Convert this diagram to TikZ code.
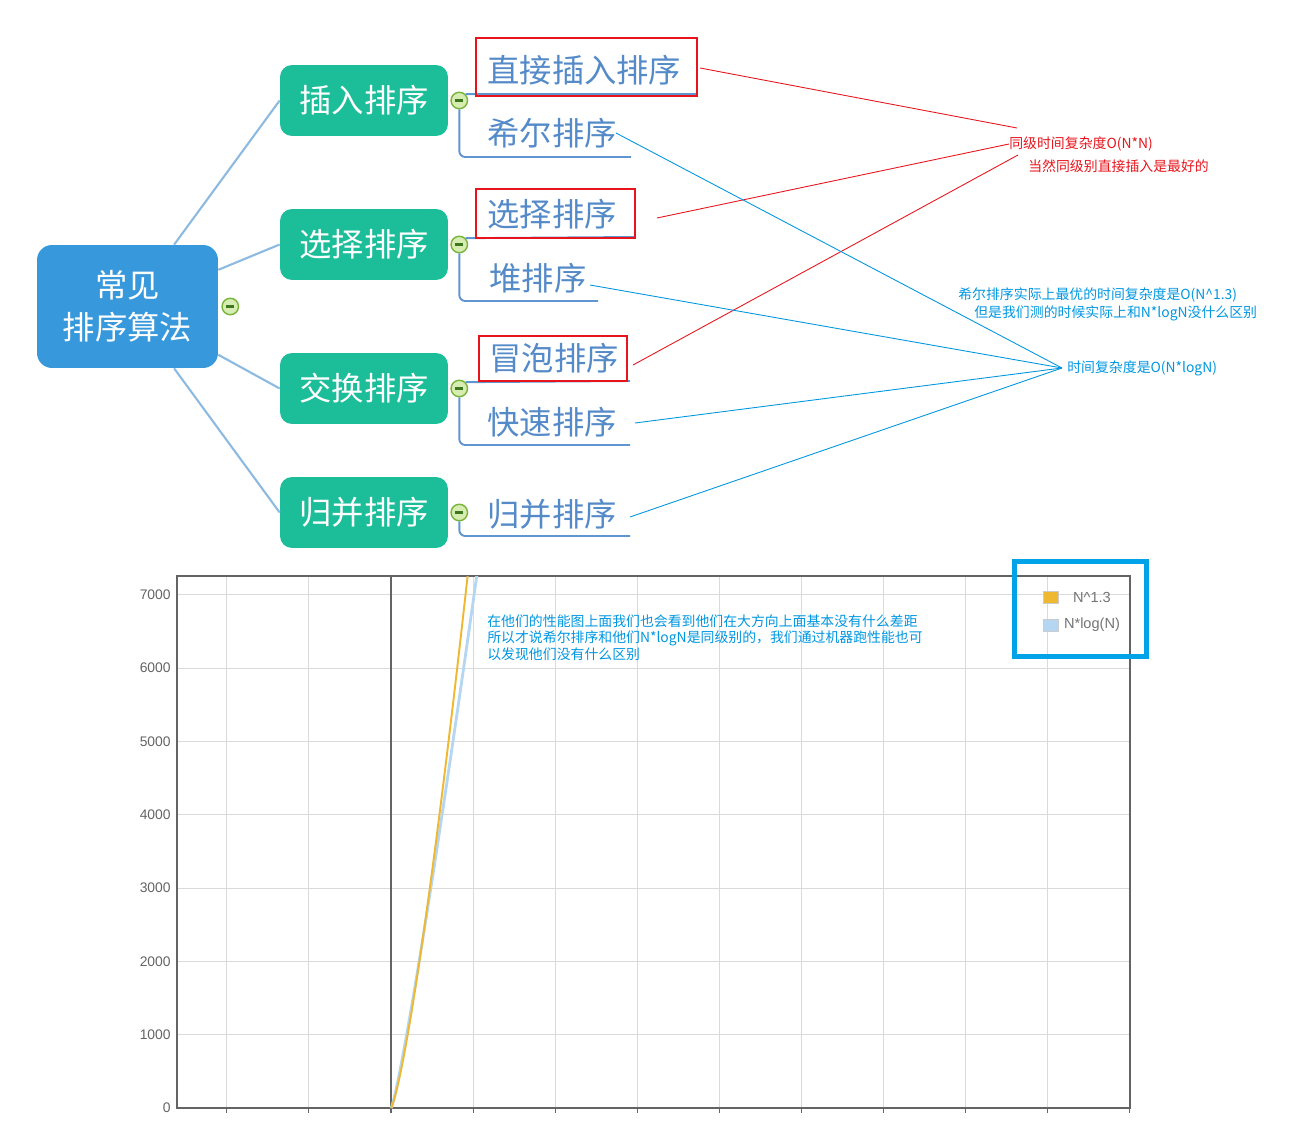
\documentclass[tikz,border=0pt]{standalone}
\usepackage{fontspec}
\setmainfont{Noto Sans CJK SC}
\newfontfamily\axisfont{Liberation Sans}
\usetikzlibrary{positioning}

\definecolor{rootblue}{RGB}{56,152,220}
\definecolor{topicgreen}{RGB}{28,190,154}
\definecolor{leafblue}{RGB}{84,138,200}
\definecolor{linkblue}{RGB}{140,186,224}
\definecolor{underblue}{RGB}{96,150,208}
\definecolor{foldgreen}{RGB}{120,180,60}
\definecolor{foldfill}{RGB}{214,236,176}
\definecolor{foldminus}{RGB}{60,120,30}
\definecolor{notered}{RGB}{232,20,28}
\definecolor{noteblue}{RGB}{0,150,224}
\definecolor{frameblue}{RGB}{0,162,232}
\definecolor{axisgray}{RGB}{100,100,100}
\definecolor{gridgray}{RGB}{218,218,218}
\definecolor{curveorange}{RGB}{238,184,48}
\definecolor{curveblue}{RGB}{180,214,242}

\begin{document}
\begin{tikzpicture}[x=0.02cm,y=-0.02cm,
    rootbox/.style={rectangle,rounded corners=0.3cm,fill=rootblue,text=white,minimum width=3.62cm,minimum height=2.46cm,align=center,font=\fontsize{18.4}{23.8}\selectfont},
    topic/.style={rectangle,rounded corners=0.24cm,fill=topicgreen,text=white,minimum width=3.36cm,minimum height=1.42cm,font=\fontsize{18.4}{22}\selectfont},
    leaf/.style={anchor=west,inner sep=0,text=leafblue,font=\fontsize{18.4}{22}\selectfont},
    fold/.style={circle,draw=foldgreen,fill=foldfill,line width=0.8pt,minimum size=0.33cm,inner sep=0,
      path picture={\draw[foldminus,line width=1.3pt] ([xshift=-0.08cm]path picture bounding box.center) -- ([xshift=0.08cm]path picture bounding box.center);}},
    link/.style={linkblue,line width=1.2pt},
    under/.style={underblue,line width=1.1pt,rounded corners=0.12cm},
    redbox/.style={notered,line width=0.6pt},
    redline/.style={notered,line width=0.5pt},
    blueline/.style={noteblue,line width=0.5pt},
    rednote/.style={anchor=west,inner sep=0,text=notered,font=\fontsize{7.9}{10}\selectfont},
    bluenote/.style={anchor=west,inner sep=0,text=noteblue,font=\fontsize{7.9}{10}\selectfont},
    gridline/.style={gridgray,line width=0.5pt},
    axisline/.style={axisgray,line width=1.1pt},
    axislabel/.style={anchor=east,inner sep=0,text=axisgray,font=\axisfont\fontsize{7.9}{9}\selectfont},
    legendtext/.style={text=axisgray!90,font=\axisfont\fontsize{8.3}{10}\selectfont}]

\useasboundingbox (0,0) rectangle (1296,1132);

% mind map
\node[rootbox] (root) at (127.5,306.5) {常见\\排序算法};
\node[fold, right=0.06cm of root] (rootf) {};
\foreach \name/\y/\txt in {ins/100.5/插入排序,sel/244.5/选择排序,swp/388.5/交换排序,mrg/512.5/归并排序}
{
  \node[topic] (\name) at (364,\y) {\txt};
  \node[fold, right=0.04cm of \name] (\name f) {};
}
\draw[link] (root.53) -- (ins.west);
\draw[link] (root.22) -- (sel.west);
\draw[link] (root.-28) -- (swp.west);
\draw[link] (root.-53.5) -- (mrg.west);

\node[leaf] (zj) at (487,70) {直接插入排序};
\node[leaf] (xe) at (487,133) {希尔排序};
\node[leaf] (xz) at (487,214) {选择排序};
\node[leaf] (dui) at (489,278) {堆排序};
\node[leaf] (mp) at (489,358) {冒泡排序};
\node[leaf] (ks) at (487,422) {快速排序};
\node[leaf] (gb) at (487,514) {归并排序};

\coordinate (zjU) at (697,94);
\coordinate (xeU) at (631,157);
\coordinate (xzU) at (635,237);
\coordinate (duiU) at (598,301);
\coordinate (mpU) at (630,381);
\coordinate (ksU) at (630,445);
\coordinate (gbU) at (630,536);

\draw[under] (insf.north east) -- (zjU);
\draw[under] (insf.south) |- (xeU);
\draw[under] (self.north east) -- (xzU);
\draw[under] (self.south) |- (duiU);
\draw[under] (swpf.north east) -- (mpU);
\draw[under] (swpf.south) |- (ksU);
\draw[under] (mrgf.south) |- (gbU);

\draw[redbox] (476,38) rectangle (697,96);
\draw[redbox] (476,189) rectangle (635,238);
\draw[redbox] (479,336) rectangle (627,381);

% notes
\node[rednote] (same) at (1009,144) {同级时间复杂度O(N*N)};
\node[rednote] (best) at (1028,166) {当然同级别直接插入是最好的};
\node[bluenote] (shell) at (958,295) {希尔排序实际上最优的时间复杂度是O(N\textasciicircum1.3)};
\node[bluenote] (shelltest) at (974,313) {但是我们测的时候实际上和N*logN没什么区别};
\node[bluenote,inner xsep=0.1cm] (nlogn) at (1062,368) {时间复杂度是O(N*logN)};

\coordinate (zjR) at (700,68);
\coordinate (xzR) at (657,218);
\coordinate (mpR) at (633,365);
\coordinate (sameA) at (1017,128);
\coordinate (sameB) at (1018,155);
\draw[redline] (zjR) -- (sameA);
\draw[redline] (xzR) -- (same.west);
\draw[redline] (mpR) -- (sameB);

\coordinate (xeR) at (616,133);
\coordinate (duiR) at (590,285);
\coordinate (ksR) at (635,423);
\coordinate (gbR) at (630,517);
\draw[blueline] (xeR) -- (nlogn.west);
\draw[blueline] (duiR) -- (nlogn.west);
\draw[blueline] (ksR) -- (nlogn.west);
\draw[blueline] (gbR) -- (nlogn.west);

% chart
\foreach \k in {-2,-1,1,2,3,4,5,6,7,8}
  \draw[gridline] ({391+82.1*\k},576) -- ({391+82.1*\k},1108);
\foreach \v in {1,2,3,4,5,6,7}
  \draw[gridline] (177,{1108-73.3*\v}) -- (1130,{1108-73.3*\v});
\foreach \k in {-2,-1,0,1,2,3,4,5,6,7,8,9}
  \draw[axisgray,line width=0.6pt] ({391+82.1*\k},1108) -- ({391+82.1*\k},1113);
\draw[axisline] (177,576) rectangle (1130,1108);
\draw[axisline] (391,576) -- (391,1108);
\foreach \v in {0,1000,2000,3000,4000,5000,6000,7000}
  \node[axislabel] (lab\v) at (171,{1108-0.0733*\v}) {\v};

\begin{scope}
\clip (177,576) rectangle (1130,1108);
\draw[curveblue,line width=1.6pt,domain=1:1060,samples=120,variable=\n] plot ({391+0.0821*\n},{1108-0.0733*\n*ln(\n)});
\draw[curveorange,line width=1.1pt,domain=1:940,samples=120,variable=\n] plot ({391+0.0821*\n},{1108-0.0733*\n^1.3});
\end{scope}

\node[bluenote,anchor=north west,align=left,font=\fontsize{7.9}{9.6}\selectfont] (chartnote) at (487,614)
  {在他们的性能图上面我们也会看到他们在大方向上面基本没有什么差距\\所以才说希尔排序和他们N*logN是同级别的，我们通过机器跑性能也可\\以发现他们没有什么区别};

% legend
\draw[frameblue,line width=0.1cm] (1014.5,561.5) rectangle (1146,656);
\draw[gray!40,fill=curveorange] (1043,591) rectangle (1058,603);
\draw[gray!40,fill=curveblue] (1043,619) rectangle (1058,631);
\node[legendtext] (legA) at (1092,597) {N\textasciicircum1.3};
\node[legendtext] (legB) at (1092,625) {N*log(N)};

\end{tikzpicture}
\end{document}
